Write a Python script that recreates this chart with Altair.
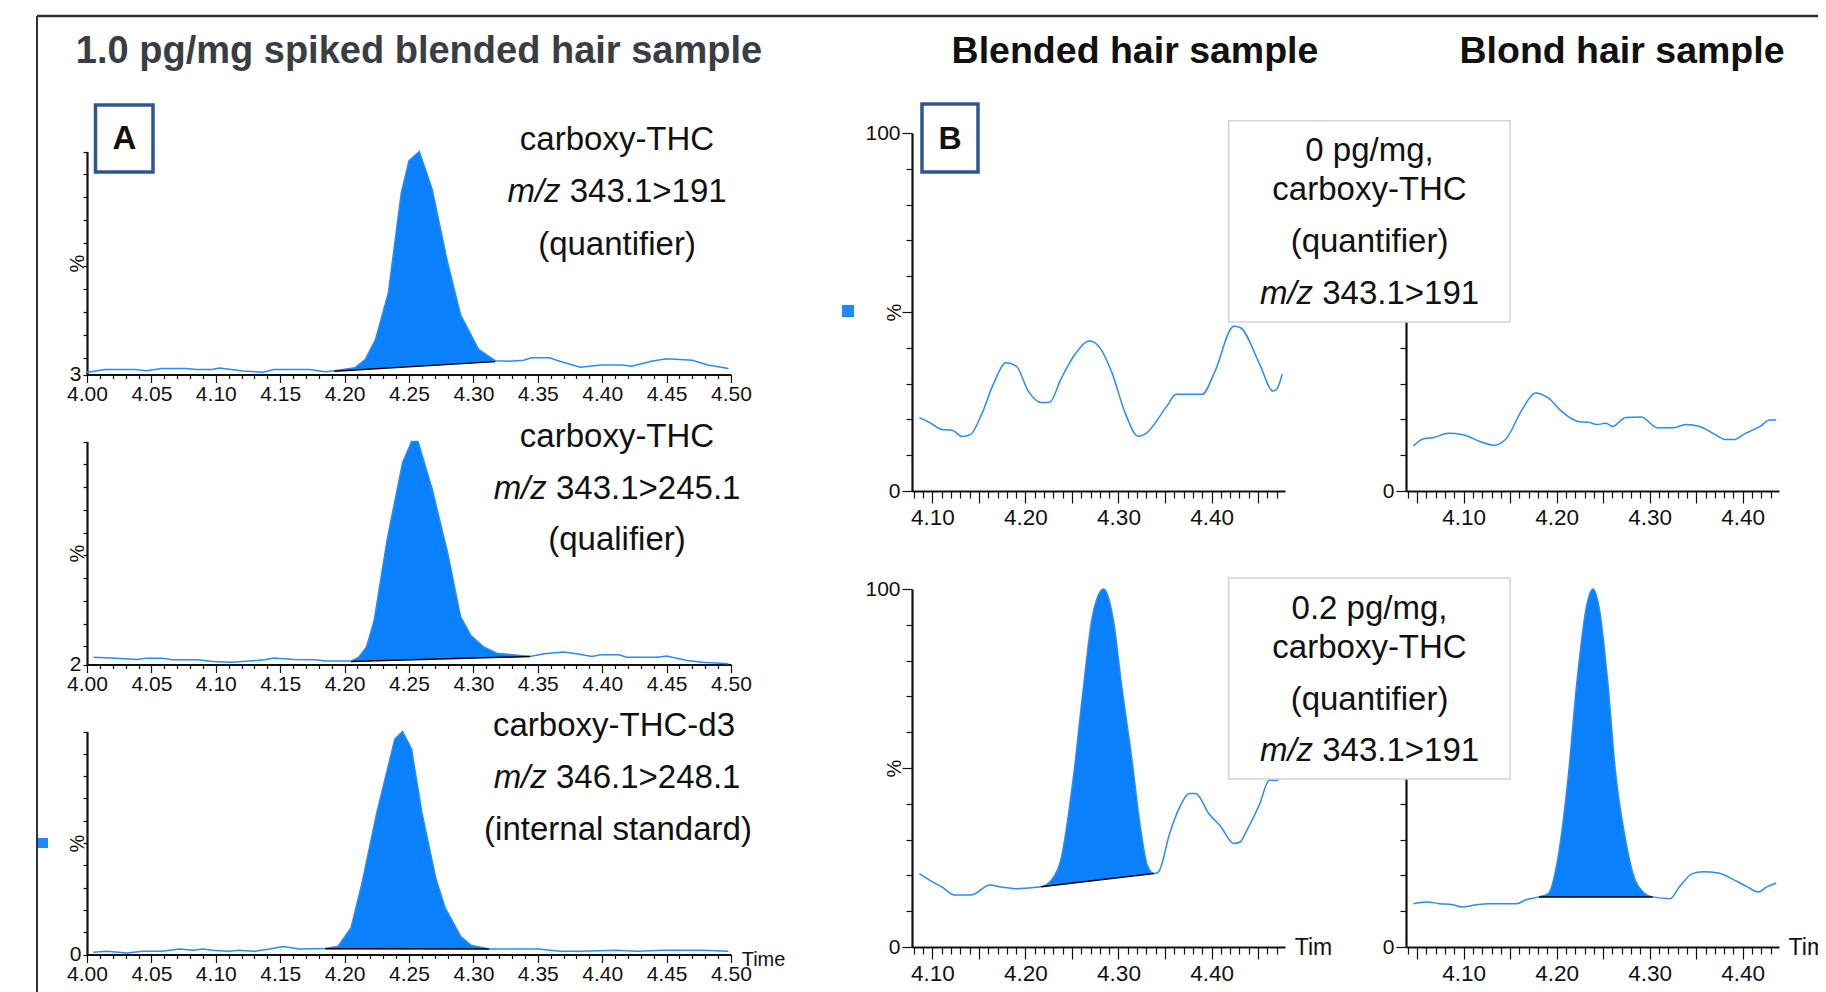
import altair as alt
import pandas as pd

FONT = "Liberation Sans"
LINE = "#2a8cf2"
FILL = "#0a80fa"
INK = "#111111"
FRAME = "#333333"
BOXBLUE = "#2f5597"
BOXGRAY = "#d4d4d4"
SQUARE = "#1a8cff"

# ---------------- data ----------------
# Panel A, carboxy-THC m/z 343.1>191 (quantifier); axis starts at 3 %
A1_T = [4.000, 4.014, 4.038, 4.046, 4.058, 4.077, 4.085, 4.097, 4.103, 4.121, 4.137, 4.145, 4.173, 4.185,
        4.192, 4.208, 4.216, 4.224, 4.234, 4.244, 4.250, 4.258, 4.268, 4.280, 4.290, 4.304, 4.317, 4.327,
        4.339, 4.345, 4.359, 4.367, 4.383, 4.399, 4.415, 4.423, 4.438, 4.450, 4.470, 4.482, 4.498]
A1_V = [4.0, 5.2, 5.2, 4.6, 5.6, 5.6, 5.2, 5.2, 5.8, 4.5, 4.0, 5.2, 5.2, 4.2,
        4.6, 5.9, 9.5, 18.2, 38.6, 82.0, 96.0, 100.0, 83.5, 51.6, 29.0, 13.9, 9.0, 8.8,
        9.2, 10.3, 10.3, 8.8, 6.2, 7.1, 7.1, 6.6, 8.8, 9.8, 9.2, 7.1, 5.6]
A1_PEAK_T = [4.192, 4.317]
A1_PEAK_B = [4.4, 8.6]

# Panel A, carboxy-THC m/z 343.1>245.1 (qualifier); axis starts at 2 %
A2_T = [4.005, 4.023, 4.039, 4.046, 4.058, 4.066, 4.086, 4.098, 4.112, 4.126, 4.138, 4.145, 4.161, 4.177,
        4.185, 4.205, 4.211, 4.217, 4.223, 4.233, 4.245, 4.252, 4.257, 4.268, 4.280, 4.290, 4.298, 4.308,
        4.318, 4.328, 4.344, 4.355, 4.370, 4.380, 4.392, 4.399, 4.413, 4.419, 4.443, 4.450, 4.466, 4.478, 4.498]
A2_V = [5.2, 4.8, 4.2, 4.8, 4.8, 4.1, 4.1, 3.3, 3.0, 3.5, 4.1, 4.9, 4.2, 4.1,
        3.5, 3.5, 5.2, 9.7, 21.5, 56.8, 90.7, 100.0, 100.0, 79.0, 51.0, 23.0, 14.8, 9.7,
        7.0, 6.4, 5.5, 6.7, 7.5, 6.7, 5.5, 6.3, 6.3, 5.2, 5.2, 5.7, 3.8, 3.0, 2.3]
A2_PEAK_T = [4.205, 4.344]
A2_PEAK_B = [3.3, 5.5]

# Panel A, carboxy-THC-d3 m/z 346.1>248.1 (internal standard)
A3_T = [4.005, 4.015, 4.031, 4.043, 4.058, 4.072, 4.082, 4.090, 4.098, 4.110, 4.118, 4.130, 4.142, 4.152,
        4.165, 4.185, 4.195, 4.205, 4.213, 4.225, 4.239, 4.245, 4.252, 4.260, 4.271, 4.278, 4.290, 4.298,
        4.312, 4.328, 4.351, 4.367, 4.383, 4.411, 4.427, 4.447, 4.478, 4.498]
A3_V = [1.0, 1.5, 0.7, 1.5, 1.5, 2.5, 1.9, 2.5, 1.9, 1.5, 1.9, 1.5, 2.5, 3.6,
        2.5, 2.7, 3.7, 12.0, 30.7, 63.6, 96.6, 100.0, 92.0, 63.6, 33.7, 21.0, 8.2, 4.2,
        2.5, 2.5, 2.5, 1.5, 1.5, 1.9, 1.5, 1.9, 1.9, 1.5]
A3_PEAK_T = [4.185, 4.312]
A3_PEAK_B = [2.6, 2.5]

# Panel B, blended hair, 0 pg/mg
B1_T = [4.086, 4.097, 4.110, 4.121, 4.132, 4.141, 4.152, 4.166, 4.179, 4.190, 4.203, 4.217, 4.226, 4.238,
        4.252, 4.269, 4.277, 4.293, 4.307, 4.321, 4.328, 4.352, 4.362, 4.390, 4.403, 4.424, 4.431, 4.452,
        4.466, 4.470, 4.476]
B1_V = [20.5, 19.1, 17.2, 17.0, 15.2, 15.8, 20.9, 30.2, 35.8, 34.9, 27.9, 24.7, 24.8, 31.2,
        37.7, 41.9, 40.9, 33.0, 21.9, 15.3, 15.8, 23.7, 27.0, 27.0, 33.0, 46.0, 45.6, 35.3,
        27.9, 28.4, 32.6]

# Panel B, blond hair, 0 pg/mg
B2_T = [4.046, 4.057, 4.067, 4.084, 4.098, 4.119, 4.132, 4.145, 4.163, 4.177, 4.191, 4.205, 4.222, 4.236,
        4.243, 4.253, 4.260, 4.274, 4.291, 4.308, 4.326, 4.339, 4.353, 4.370, 4.381, 4.391, 4.401, 4.419,
        4.429, 4.436]
B2_V = [12.6, 14.6, 14.9, 16.1, 15.8, 13.7, 12.8, 14.4, 22.8, 27.4, 26.0, 22.3, 19.5, 19.1,
        18.6, 18.9, 18.0, 20.5, 20.7, 17.7, 17.7, 18.6, 18.1, 15.8, 14.4, 14.4, 15.8, 18.1,
        19.8, 19.8]

# Panel B, blended hair, 0.2 pg/mg
B3_T = [4.086, 4.100, 4.110, 4.124, 4.141, 4.162, 4.172, 4.190, 4.217, 4.228, 4.238, 4.252, 4.262, 4.272,
        4.284, 4.295, 4.303, 4.314, 4.324, 4.331, 4.338, 4.343, 4.355, 4.366, 4.376, 4.383, 4.397, 4.410,
        4.424, 4.431, 4.438, 4.452, 4.462, 4.472]
B3_V = [20.5, 18.2, 16.8, 14.5, 14.5, 17.3, 16.8, 16.3, 16.8, 18.7, 24.3, 48.5, 71.8, 92.4,
        100.0, 90.5, 73.7, 53.2, 32.6, 22.8, 20.5, 21.0, 31.7, 39.2, 42.9, 42.9, 37.3, 33.6,
        28.9, 29.4, 32.6, 40.1, 46.6, 46.6]
B3_PEAK_T = [4.217, 4.338]
B3_PEAK_B = [16.8, 20.5]

# Panel B, blond hair, 0.2 pg/mg
B4_T = [4.046, 4.060, 4.074, 4.088, 4.098, 4.112, 4.126, 4.157, 4.167, 4.181, 4.191, 4.201, 4.212, 4.222,
        4.232, 4.239, 4.246, 4.255, 4.263, 4.274, 4.283, 4.294, 4.303, 4.322, 4.332, 4.346, 4.357, 4.374,
        4.388, 4.405, 4.417, 4.426, 4.436]
B4_V = [12.1, 12.6, 12.1, 11.8, 11.2, 11.7, 12.1, 12.1, 13.2, 14.0, 14.9, 24.3, 46.6, 74.6,
        95.1, 100.0, 94.2, 73.7, 49.4, 29.9, 19.6, 15.1, 14.0, 13.5, 16.8, 20.5, 21.0, 20.7,
        19.1, 16.8, 15.4, 16.8, 17.9]
B4_PEAK_T = [4.181, 4.303]
B4_PEAK_B = [14.0, 14.0]

# axis domains and ticks
A_XDOM = [4.00, 4.50]
BL_XDOM = [4.078, 4.479]
BR_XDOM = [4.038, 4.439]
A_XTICKS = [round(4.00 + 0.01 * i, 2) for i in range(51)]
BL_XTICKS = [round(4.08 + 0.01 * i, 2) for i in range(40)]
BR_XTICKS = [round(4.04 + 0.01 * i, 2) for i in range(40)]
A1_YTICKS = [3, 10, 20, 30, 40, 50, 60, 70, 80, 90, 100]
A2_YTICKS = [2, 10, 20, 30, 40, 50, 60, 70, 80, 90, 100]
A3_YTICKS = [0, 10, 20, 30, 40, 50, 60, 70, 80, 90, 100]
B_YTICKS = [0, 10, 20, 30, 40, 50, 60, 70, 80, 90, 100]

# ---------------- layout: plot rectangles in page pixels ----------------
VIEW_W, VIEW_H = 1810, 984          # one view, page origin at (8, 8)
OX, OY = 8, 8
A_L, A_R = 87, 731
A_ROWS = [(151.5, 374.5), (441.5, 664.5), (731.5, 954.5)]
BL_L, BL_R = 912, 1285
BR_L, BR_R = 1406, 1779
B_ROWS = [(133, 491), (589, 947)]

one = pd.DataFrame({"k": [0]})

ARIAL = {"0": 556, "1": 556, "2": 556, "3": 556, "4": 556, "5": 556, "6": 556, "7": 556,
         "8": 556, "9": 556, ".": 278, ">": 584, " ": 278}


def T(text, x, y, size, weight="normal", style="normal", align="center", color=INK):
    return alt.Chart(one).mark_text(
        text=text, font=FONT, fontSize=size, fontWeight=weight, fontStyle=style,
        align=align, baseline="middle", color=color
    ).encode(x=alt.value(x - OX), y=alt.value(y - OY))


def MZ(rest, cx, y, size):
    w_it = 1.611 * size
    w_sp = 0.278 * size
    w_rest = sum(ARIAL[c] for c in rest) / 1000 * size
    left = cx - (w_it + w_sp + w_rest) / 2
    return [T("m/z", left, y, size, style="italic", align="left"),
            T(rest, left + w_it + w_sp, y, size, align="left")]


def R(x, x2, y, y2, fill, stroke=None, sw=0):
    kw = dict(fill=fill)
    if stroke:
        kw.update(stroke=stroke, strokeWidth=sw)
    return alt.Chart(one).mark_rect(**kw).encode(
        x=alt.value(x - OX), x2=alt.value(x2 - OX),
        y=alt.value(y - OY), y2=alt.value(y2 - OY))


def L(x, x2, y, y2, color, sw):
    return alt.Chart(one).mark_rule(color=color, strokeWidth=sw).encode(
        x=alt.value(x - OX), x2=alt.value(x2 - OX),
        y=alt.value(y - OY), y2=alt.value(y2 - OY))


def x_axis(ticks, label_step, major, minor, size, pad, bottom):
    return alt.Axis(
        orient="bottom", offset=(bottom - OY) - VIEW_H, zindex=0,
        values=ticks,
        labelExpr=f"round(datum.value*100) % {label_step} == 0 ? format(datum.value, '.2f') : ''",
        title=None, grid=False,
        tickSize={"condition": {"test": "round(datum.value*100) % 5 == 0", "value": major}, "value": minor},
        tickColor=INK, tickWidth=1.2, domainColor=INK, domainWidth=2.2,
        labelFont=FONT, labelFontSize=size, labelColor=INK, labelPadding=pad,
        labelFlush=False, labelOverlap=False)


def y_axis(ticks, labelled, long_test, long, short, size, pad, left, top, bottom, tx):
    test = " || ".join(f"datum.value == {v}" for v in labelled)
    return alt.Axis(
        orient="left", offset=-(left - OX), zindex=0,
        values=ticks, labelExpr=f"({test}) ? format(datum.value, 'd') : ''",
        title="%", titleFont=FONT, titleFontSize=20, titleFontWeight="normal", titleColor=INK,
        titleAngle=270, titleX=tx, titleY=(top + bottom) / 2 - OY,
        titleAlign="center", titleBaseline="middle",
        grid=False,
        tickSize={"condition": {"test": long_test, "value": long}, "value": short},
        tickColor=INK, tickWidth=1.2, domainColor=INK, domainWidth=2.2,
        labelFont=FONT, labelFontSize=size, labelColor=INK, labelPadding=pad,
        labelFlush=False, labelOverlap=False)


def panel(t, v, xdom, xrng, ydom, yrng, xax, yax, interp, peak_t=None, peak_b=None):
    df = pd.DataFrame({"t": t, "v": v})
    X = alt.X("t:Q", scale=alt.Scale(domain=xdom, range=[xrng[0] - OX, xrng[1] - OX],
                                      nice=False, zero=False), axis=xax)
    Y = alt.Y("v:Q", scale=alt.Scale(domain=ydom, range=[yrng[1] - OY, yrng[0] - OY],
                                      nice=False, zero=False), axis=yax)
    layers = []
    if peak_t:
        t0, t1 = peak_t
        b0, b1 = peak_b
        layers.append(alt.Chart(df).transform_filter(
            f"datum.t >= {t0 - 1e-9} && datum.t <= {t1 + 1e-9}"
        ).transform_calculate(
            b=f"{b0} + (datum.t - {t0}) / {t1 - t0} * {b1 - b0}"
        ).mark_area(color=FILL, opacity=1, interpolate=interp).encode(x=X, y=Y, y2="b:Q"))
    layers.append(alt.Chart(df).mark_line(color=LINE, strokeWidth=1.5, interpolate=interp)
                  .encode(x=X, y=Y))
    if peak_t:
        bdf = pd.DataFrame({"t": [peak_t[0]], "t2": [peak_t[1]], "v": [peak_b[0]], "v2": [peak_b[1]]})
        layers.append(alt.Chart(bdf).mark_rule(color="black", strokeWidth=1.5).encode(
            x=X, x2="t2:Q", y=Y, y2="v2:Q"))
    return alt.layer(*layers)


def a_panel(t, v, ydom, yticks, row, peak_t, peak_b):
    top, bottom = A_ROWS[row]
    return panel(t, v, A_XDOM, (A_L, A_R), ydom, (top, bottom),
                 x_axis(A_XTICKS, 5, 8, 4, 21, 0.5, bottom),
                 y_axis(yticks, [ydom[0]], f"datum.value == {ydom[0]}", 4, 4, 21, 2,
                        A_L, top, bottom, -10),
                 "linear", peak_t, peak_b)


def b_panel(t, v, right_side, row, peak_t=None, peak_b=None):
    top, bottom = B_ROWS[row]
    left, rightx = (BR_L, BR_R) if right_side else (BL_L, BL_R)
    xdom = BR_XDOM if right_side else BL_XDOM
    xticks = BR_XTICKS if right_side else BL_XTICKS
    return panel(t, v, xdom, (left, rightx), [0, 100], (top, bottom),
                 x_axis(xticks, 10, 12, 7, 22.5, 3.5, bottom),
                 y_axis(B_YTICKS, [0, 100], "datum.value % 50 == 0", 10, 6, 21, 2,
                        left, top, bottom, -18),
                 "monotone", peak_t, peak_b)


panels = [
    a_panel(A1_T, A1_V, [3, 100], A1_YTICKS, 0, A1_PEAK_T, A1_PEAK_B),
    a_panel(A2_T, A2_V, [2, 100], A2_YTICKS, 1, A2_PEAK_T, A2_PEAK_B),
    a_panel(A3_T, A3_V, [0, 100], A3_YTICKS, 2, A3_PEAK_T, A3_PEAK_B),
    b_panel(B1_T, B1_V, False, 0),
    b_panel(B2_T, B2_V, True, 0),
    b_panel(B3_T, B3_V, False, 1, B3_PEAK_T, B3_PEAK_B),
    b_panel(B4_T, B4_V, True, 1, B4_PEAK_T, B4_PEAK_B),
]

decor = [
    # frame
    L(37, 1830, 16, 16, FRAME, 2.5),
    L(37, 37, 16, 1000, FRAME, 2),
    # headings
    T("1.0 pg/mg spiked blended hair sample", 419, 52, 38, weight="bold", color="#3a3e44"),
    T("Blended hair sample", 1135, 52, 37.5, weight="bold"),
    T("Blond hair sample", 1622, 52, 37.5, weight="bold"),
    # panel letters
    R(95.5, 153, 105, 172, "white", BOXBLUE, 3.5),
    T("A", 124.5, 139, 33, weight="bold"),
    R(922, 978, 104, 172, "white", BOXBLUE, 3.5),
    T("B", 950, 139, 32, weight="bold"),
    # selection squares
    R(38, 48, 838, 848, SQUARE),
    R(842, 854, 305, 317, SQUARE),
    # panel A labels
    T("carboxy-THC", 617, 140, 33),
    *MZ("343.1>191", 617, 192.3, 33),
    T("(quantifier)", 617, 244.5, 33),
    T("carboxy-THC", 617, 436.7, 33),
    *MZ("343.1>245.1", 617, 489, 33),
    T("(qualifier)", 617, 540.3, 33),
    T("carboxy-THC-d3", 614, 725.5, 33),
    *MZ("346.1>248.1", 617, 778, 33),
    T("(internal standard)", 618, 830, 33),
    T("Time", 741.7, 959.5, 20, align="left"),
    # panel B labels
    R(1228.6, 1510, 120.7, 322, "white", BOXGRAY, 1.5),
    T("0 pg/mg,", 1369.5, 151.4, 33),
    T("carboxy-THC", 1369.5, 189.8, 33),
    T("(quantifier)", 1369.5, 242.2, 33),
    *MZ("343.1>191", 1369.5, 293.5, 33),
    R(1228.6, 1510, 578, 779, "white", BOXGRAY, 1.5),
    T("0.2 pg/mg,", 1369.5, 609, 33),
    T("carboxy-THC", 1369.5, 647.5, 33),
    T("(quantifier)", 1369.5, 700, 33),
    *MZ("343.1>191", 1369.5, 751, 33),
    T("Tim", 1294.7, 948, 23, align="left"),
    T("Tim", 1788.6, 948, 23, align="left"),
]

chart = alt.layer(*panels, *decor).resolve_scale(
    x="independent", y="independent"
).properties(
    width=VIEW_W, height=VIEW_H,
    autosize=alt.AutoSizeParams(type="none"),
    padding=0,
    background="white",
).configure_view(strokeWidth=0)

chart.save("out.html", embed_options={"renderer": "svg", "actions": False})
